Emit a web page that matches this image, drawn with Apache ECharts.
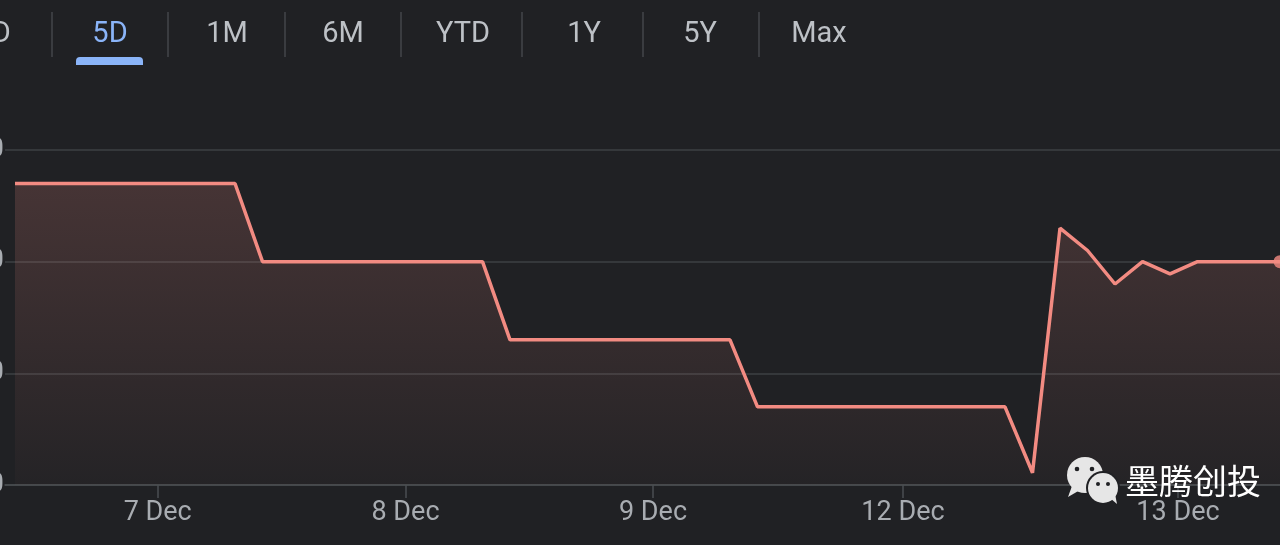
<!DOCTYPE html>
<html>
<head>
<meta charset="utf-8">
<script src="https://cdn.jsdelivr.net/npm/echarts@6/dist/echarts.min.js"></script>
<style>
html,body{margin:0;padding:0;background:#202124;}
#c{width:1280px;height:545px;}
</style>
</head>
<body>
<div id="c"></div>
<script>
// ---- data ----
const steps  = [0, 8, 9, 17, 18, 26, 27, 36, 37, 38, 39, 40, 41, 42, 43, 46];
const prices = [127.0, 127.0, 120.0, 120.0, 113.0, 113.0, 107.0, 107.0, 101.1, 123.0, 121.0, 118.0, 120.0, 118.9, 120.0, 120.0];
const dateTickSteps = [5.19, 14.2, 23.2, 32.29, 42.29];
const dateTickLabels = ['7 Dec', '8 Dec', '9 Dec', '12 Dec', '13 Dec'];
const rangeTabs = ['1D', '5D', '1M', '6M', 'YTD', '1Y', '5Y', 'Max'];
const activeTab = '5D';
const watermarkText = '墨腾创投';

const seriesData = steps.map((s, i) => [s, prices[i]]);
const lastPoint = seriesData[seriesData.length - 1];

// ---- layout ----
const tabCenters = [-7, 110, 227, 343, 463, 584, 700, 819];
const separators = [52, 168, 285, 401, 522, 643, 759];

const graphics = [];
rangeTabs.forEach((t, i) => {
  graphics.push({
    type: 'text',
    x: tabCenters[i], y: 35,
    style: {
      text: t, fill: t === activeTab ? '#8ab4f8' : '#bdc1c6',
      font: '29px Roboto, "Noto Sans", sans-serif',
      align: 'center', verticalAlign: 'middle'
    }
  });
});
separators.forEach(x => {
  graphics.push({ type: 'rect', shape: { x: x - 1, y: 12, width: 2, height: 45 }, style: { fill: '#3a3c40' } });
});
graphics.push({ type: 'rect', shape: { x: 76, y: 57, width: 67, height: 8, r: [4, 4, 0, 0] }, style: { fill: '#8ab4f8' } });

// watermark (wechat icon + text)
graphics.push({ type: 'circle', shape: { cx: 1085, cy: 475, r: 18 }, style: { fill: '#e6e6e6' }, z: 20 });
graphics.push({ type: 'polygon', shape: { points: [[1072, 486], [1068, 497], [1080, 490]] }, style: { fill: '#e6e6e6' }, z: 20 });
graphics.push({ type: 'circle', shape: { cx: 1103, cy: 488, r: 17 }, style: { fill: '#202124' }, z: 21 });
graphics.push({ type: 'circle', shape: { cx: 1103, cy: 488, r: 15 }, style: { fill: '#e6e6e6' }, z: 22 });
graphics.push({ type: 'polygon', shape: { points: [[1110, 498], [1117, 504], [1115, 494]] }, style: { fill: '#e6e6e6' }, z: 22 });
[[1077, 469, 2.3, 21], [1092, 469, 2.3, 21], [1098, 484, 2, 23], [1108, 484, 2, 23]].forEach(p => {
  graphics.push({ type: 'circle', shape: { cx: p[0], cy: p[1], r: p[2] }, style: { fill: '#202124' }, z: p[3] });
});
graphics.push({
  type: 'text', x: 1125, y: 481, z: 20,
  style: { text: watermarkText, fill: '#ffffff', font: '34px "Noto Sans CJK SC", sans-serif', align: 'left', verticalAlign: 'middle' }
});

const chart = echarts.init(document.getElementById('c'), null, { renderer: 'canvas' });
chart.setOption({
  backgroundColor: '#202124',
  animation: false,
  graphic: graphics,
  grid: { left: 5, right: 0, top: 150, bottom: 60, containLabel: false, outerBoundsMode: 'none' },
  xAxis: {
    type: 'value',
    min: -0.364, max: 46,
    splitLine: { show: false },
    axisLine: { show: true, lineStyle: { color: '#4a4d51', width: 1.5 } },
    axisTick: { show: true, length: 13, lineStyle: { color: '#4a4d51', width: 1.5 }, customValues: dateTickSteps },
    axisLabel: {
      show: true, customValues: dateTickSteps, margin: 15,
      color: '#a8acb1', fontSize: 27, fontFamily: 'Roboto, "Noto Sans", sans-serif',
      formatter: (v) => {
        const i = dateTickSteps.findIndex(s => Math.abs(s - v) < 1e-6);
        return i >= 0 ? dateTickLabels[i] : '';
      }
    }
  },
  yAxis: {
    type: 'value',
    min: 100, max: 130, interval: 10,
    axisLine: { show: false },
    axisTick: { show: false },
    axisLabel: { show: true, margin: 1, color: '#a8acb1', fontSize: 27, fontFamily: 'Roboto, sans-serif' },
    splitLine: { show: true, lineStyle: { color: '#3c4043', width: 1.5 } }
  },
  series: [
    {
      type: 'line',
      data: seriesData,
      symbol: 'none',
      lineStyle: { color: '#f28b82', width: 3.5 },
      areaStyle: {
        color: new echarts.graphic.LinearGradient(0, 0, 0, 1, [
          { offset: 0, color: 'rgba(242,139,130,0.26)' },
          { offset: 1, color: 'rgba(242,139,130,0.03)' }
        ])
      },
      z: 3
    },
    {
      type: 'scatter',
      data: [lastPoint],
      symbolSize: 13,
      itemStyle: { color: '#f28b82' },
      z: 4
    }
  ]
});
</script>
</body>
</html>
